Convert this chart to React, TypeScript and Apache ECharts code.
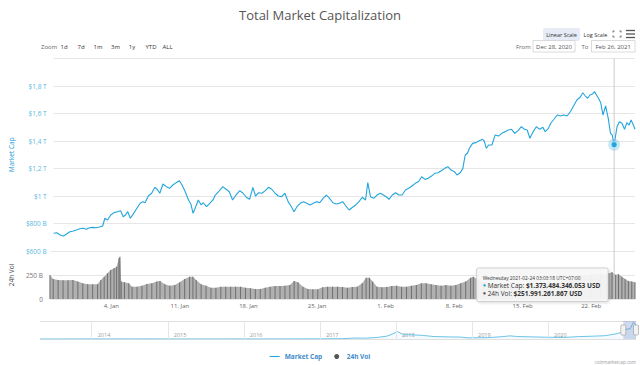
import React, { useEffect, useRef } from "react";
import * as echarts from "echarts";

// Market cap (trillions USD), x = days since 2020-12-28 00:00
const capDays = [
  0.725, 1.057, 1.39, 1.732, 2.064, 2.397, 2.739, 3.072, 3.404, 3.746,
  4.079, 4.411, 4.753, 5.086, 5.418, 5.76, 5.992, 6.264, 6.596, 6.928,
  7.271, 7.603, 7.875, 8.107, 8.338, 8.61, 8.943, 9.285, 9.617, 9.889,
  10.121, 10.453, 10.796, 11.128, 11.36, 11.632, 11.964, 12.306, 12.638, 12.971,
  13.313, 13.646, 13.917, 14.25, 14.582, 14.824, 15.056, 15.327, 15.589,
  15.891, 16.093, 16.435, 16.767, 17.1, 17.341, 17.674, 18.107, 18.449, 18.781,
  19.114, 19.456, 19.859, 20.191, 20.524, 20.866, 21.198, 21.47, 21.803, 22.135,
  22.477, 22.81, 23.142, 23.484, 23.817, 24.149, 24.491, 24.824, 25.156, 25.428,
  25.73, 26.062, 26.405, 26.737, 27.07, 27.412, 27.744, 28.077, 28.419, 28.751,
  29.084, 29.426, 29.758,
  30.091, 30.433, 30.765, 31.098, 31.44, 31.772, 32.105, 32.447, 32.779, 33.011,
  33.283, 33.615, 33.958, 34.29, 34.622, 34.965, 35.196, 35.529, 35.871, 36.204,
  36.536, 36.878, 37.211, 37.543, 37.885, 38.218, 38.55, 38.892, 39.225, 39.557,
  39.9, 40.232, 40.564, 40.907, 41.239, 41.571, 41.914, 42.175, 42.518, 42.78,
  43.021, 43.253, 43.454, 43.787, 44.129, 44.461, 44.794,
  44.965, 45.196, 45.438, 45.77, 46.103, 46.445, 46.778, 47.11, 47.452, 47.785,
  48.117, 48.459, 48.792, 49.124, 49.396, 49.668, 50.0, 50.332, 50.675, 51.007,
  51.239, 51.581, 51.813, 52.145, 52.487, 52.82, 53.152, 53.494, 53.827, 54.159,
  54.502, 54.834, 55.106, 55.368, 55.609, 55.841, 56.113, 56.314, 56.516, 56.777,
  56.949, 57.18, 57.452, 57.724, 57.956, 58.127, 58.328, 58.459, 58.63, 58.862,
  59.134, 59.396, 59.637, 59.869, 60.07, 60.302, 60.473,
];
const capValues = [
  0.729, 0.733, 0.716, 0.709, 0.724, 0.74, 0.745, 0.753, 0.762, 0.765,
  0.758, 0.769, 0.772, 0.769, 0.775, 0.782, 0.838, 0.825, 0.862, 0.879,
  0.886, 0.893, 0.849, 0.862, 0.886, 0.838, 0.874, 0.911, 0.947, 0.959,
  0.951, 1.0, 1.02, 1.063, 1.049, 1.02, 1.087, 1.068, 1.056, 1.08,
  1.097, 1.111, 1.08, 1.031, 0.971, 0.942, 0.874, 0.922, 0.971,
  0.935, 0.951, 0.922, 0.947, 0.971, 1.007, 1.031, 1.068, 1.049, 1.031,
  0.971, 1.007, 1.039, 1.02, 0.991, 0.976, 1.063, 1.0, 1.024, 1.02,
  1.039, 1.063, 1.049, 1.02, 1.0, 0.995, 1.02, 0.959, 0.922, 0.886,
  0.922, 0.947, 0.959, 0.947, 0.935, 0.947, 0.959, 0.951, 0.983, 1.007,
  0.983, 0.951, 0.942,
  0.947, 0.959, 0.927, 0.898, 0.918, 0.935, 0.959, 0.991, 0.971, 1.097,
  0.995, 0.983, 1.007, 1.02, 1.007, 0.991, 0.976, 1.007, 1.024, 1.007,
  1.007, 1.044, 1.056, 1.073, 1.092, 1.104, 1.14, 1.121, 1.129, 1.145,
  1.165, 1.169, 1.184, 1.201, 1.213, 1.189, 1.177, 1.153, 1.169, 1.201,
  1.298, 1.311, 1.347, 1.383, 1.388, 1.402, 1.412,
  1.402, 1.347, 1.371, 1.371, 1.444, 1.436, 1.456, 1.468, 1.48, 1.485,
  1.456, 1.475, 1.504, 1.485, 1.48, 1.42, 1.468, 1.504, 1.485, 1.5,
  1.468, 1.492, 1.529, 1.558, 1.589, 1.582, 1.589, 1.582, 1.613, 1.655,
  1.698, 1.718, 1.751, 1.727, 1.711, 1.735, 1.742, 1.759, 1.735, 1.703,
  1.679, 1.589, 1.655, 1.565, 1.456, 1.444, 1.373, 1.431, 1.504, 1.54,
  1.529, 1.485, 1.533, 1.516, 1.553, 1.516, 1.485,
];

// 24h volume (billions USD)
const volDays = [
  0.725, 1.057, 1.561, 2.064, 2.568, 3.072, 3.575, 4.079, 4.582, 5.086, 5.589,
  5.921, 6.264, 6.596, 6.928, 7.271, 7.533, 7.774, 7.875, 8.006, 8.338,
  8.781, 9.114, 9.617, 10.121, 10.624, 11.128, 11.632, 11.964, 12.467, 12.971,
  13.474, 13.978, 14.481, 14.985, 15.327, 15.66, 16.163, 16.667, 17.17, 17.674,
  18.177, 18.681, 19.184, 19.688, 20.191, 20.695, 21.198, 21.702, 22.205, 22.709,
  23.212, 23.716, 24.22, 24.723, 25.227, 25.66, 26.062, 26.566, 27.07, 27.573,
  28.077, 28.58, 29.084, 29.587, 30.091, 30.594,
  31.098, 31.601, 32.105, 32.608, 33.011, 33.353, 33.686, 34.119, 34.622, 35.126,
  35.629, 36.133, 36.637, 37.14, 37.644, 38.147, 38.651, 39.154, 39.658, 40.161,
  40.665, 41.168, 41.672, 42.175, 42.679, 43.182, 43.686, 43.958,
  44.461, 45.065, 45.871, 46.878, 47.885, 48.892, 49.899, 50.906, 51.913, 52.92,
  53.927, 54.935, 55.942, 56.949, 57.553,
  57.785, 58.127, 58.459, 58.792, 59.134, 59.466, 59.799, 60.141, 60.473,
];
const volValues = [
  250, 208, 198, 195, 195, 198, 181, 163, 153, 153, 153,
  198, 233, 267, 302, 320, 337, 424, 441, 181, 174,
  163, 128, 128, 139, 156, 163, 181, 188, 153, 139,
  146, 174, 208, 233, 233, 198, 153, 139, 118, 118,
  128, 128, 128, 128, 128, 118, 111, 104, 104, 118,
  128, 135, 135, 139, 146, 188, 174, 128, 104, 101,
  101, 122, 128, 128, 128, 125,
  118, 125, 128, 163, 222, 222, 181, 128, 122, 125,
  135, 139, 128, 128, 139, 146, 163, 163, 153, 146,
  139, 146, 139, 146, 163, 181, 222, 233,
  200, 175, 160, 150, 145, 150, 160, 155, 165, 175,
  200, 240, 255, 260, 250,
  267, 278, 252, 257, 233, 208, 188, 181, 174,
];

const xTickDays = [7, 14, 21, 28, 35, 42, 49, 56];
const xTickLabels = ["4. Jan", "11. Jan", "18. Jan", "25. Jan", "1. Feb", "8. Feb", "15. Feb", "22. Feb"];
const capTicks = [0.6, 0.8, 1.0, 1.2, 1.4, 1.6, 1.8];
const capTickLabels = ["$600 B", "$800 B", "$1 T", "$1,2 T", "$1,4 T", "$1,6 T", "$1,8 T"];
const volTicks = [0, 250];
const volTickLabels = ["0", "250 B"];

// Navigator: whole history (fractional year, trillions USD)
const navYears = [
  2013.32, 2013.6, 2013.85, 2013.93, 2014.1, 2014.5, 2015.0, 2015.5, 2016.0, 2016.5,
  2017.0, 2017.3, 2017.45, 2017.6, 2017.75, 2017.88, 2017.96, 2018.02, 2018.1, 2018.2,
  2018.35, 2018.5, 2018.7, 2018.85, 2018.95, 2019.2, 2019.4, 2019.5, 2019.6, 2019.8,
  2019.95, 2020.2, 2020.4, 2020.6, 2020.75, 2020.9, 2020.97, 2021.02, 2021.08, 2021.12, 2021.156,
];
const navValues = [
  0.0015, 0.0012, 0.006, 0.014, 0.01, 0.008, 0.005, 0.004, 0.007, 0.011,
  0.018, 0.035, 0.1, 0.09, 0.16, 0.3, 0.55, 0.78, 0.45, 0.45,
  0.38, 0.26, 0.22, 0.2, 0.12, 0.14, 0.25, 0.33, 0.26, 0.22,
  0.19, 0.16, 0.25, 0.3, 0.35, 0.55, 0.72, 1.0, 1.1, 1.75, 1.5,
];
const navYearTicks = [2014, 2015, 2016, 2017, 2018, 2019, 2020];
const navSelection = [2020.989, 2021.156];

const tipDay = 58.328;
const tipTime = "Wednesday 2021-02-24 03:03:18 UTC+07:00";
const tipCap = "$1.373.484.346.053 USD";
const tipVol = "$251.991.261.867 USD";

const FONT = "'Open Sans', sans-serif";
const CAP_COLOR = "#23a5dd";

function lookup(ticks: number[], labels: string[], v: number) {
  for (let i = 0; i < ticks.length; i++) if (Math.abs(ticks[i] - v) < 1e-6) return labels[i];
  return "";
}

function staticGraphics(): any[] {
  const t = (text: string, x: number, y: number, opts: any = {}) => ({
    type: "text",
    x,
    y,
    style: { text, fontSize: 6, fill: "#333", fontFamily: FONT, align: "center", verticalAlign: "middle", ...opts },
  });
  return [
    { type: "rect", shape: { x: 543, y: 28, width: 37, height: 13, r: 2 }, style: { fill: "#e6ebf5" } },
    t("Linear Scale", 561.5, 34.5, { fontSize: 5.5 }),
    t("Log Scale", 595.5, 34.5, { fontSize: 5.5 }),
    { type: "polyline", shape: { points: [[613, 32.5], [613, 31], [614.5, 31]] }, style: { stroke: "#666", lineWidth: 1, fill: null } },
    { type: "polyline", shape: { points: [[619.5, 31], [621, 31], [621, 32.5]] }, style: { stroke: "#666", lineWidth: 1, fill: null } },
    { type: "polyline", shape: { points: [[613, 35.5], [613, 37], [614.5, 37]] }, style: { stroke: "#666", lineWidth: 1, fill: null } },
    { type: "polyline", shape: { points: [[619.5, 37], [621, 37], [621, 35.5]] }, style: { stroke: "#666", lineWidth: 1, fill: null } },
    { type: "line", shape: { x1: 626, y1: 30.5, x2: 635, y2: 30.5 }, style: { stroke: "#555", lineWidth: 1.3 } },
    { type: "line", shape: { x1: 626, y1: 34, x2: 635, y2: 34 }, style: { stroke: "#555", lineWidth: 1.3 } },
    { type: "line", shape: { x1: 626, y1: 37.5, x2: 635, y2: 37.5 }, style: { stroke: "#555", lineWidth: 1.3 } },
    t("Zoom", 41, 46.5, { align: "left", fill: "#666" }),
    t("1d", 64, 46.5),
    t("7d", 81, 46.5),
    t("1m", 98, 46.5),
    t("3m", 115.5, 46.5),
    t("1y", 132, 46.5),
    t("YTD", 151, 46.5),
    t("ALL", 167.5, 46.5),
    t("From", 516, 46.5, { align: "left", fill: "#666" }),
    { type: "rect", shape: { x: 533, y: 40.5, width: 42, height: 11.5 }, style: { fill: "#fff", stroke: "#ccc", lineWidth: 0.7 } },
    t("Dec 28, 2020", 554, 46.5, { fill: "#555" }),
    t("To", 581.5, 46.5, { align: "left", fill: "#666" }),
    { type: "rect", shape: { x: 591.5, y: 40.5, width: 43.5, height: 11.5 }, style: { fill: "#fff", stroke: "#ccc", lineWidth: 0.7 } },
    t("Feb 26, 2021", 613.2, 46.5, { fill: "#555" }),
    t("coinmarketcap.com", 636, 361.5, { align: "right", fontSize: 4.5, fill: "#999" }),
  ];
}

export default function App() {
  const ref = useRef<HTMLDivElement>(null);
  useEffect(() => {
    if (!ref.current) return;
    const chart = echarts.init(ref.current, null, { renderer: "svg" });
    const dMin = capDays[0];
    const dMax = capDays[capDays.length - 1];
    const option: any = {
      animation: false,
      textStyle: { fontFamily: FONT },
      title: {
        text: "Total Market Capitalization",
        left: "center",
        top: 3,
        textStyle: { fontSize: 13, fontWeight: "normal", color: "#555", fontFamily: FONT },
      },
      legend: {
        left: "center",
        top: 348,
        itemWidth: 10,
        itemHeight: 5,
        itemGap: 12,
        textStyle: { fontSize: 6.5, fontWeight: "bold", color: "#3d8bc9", fontFamily: FONT },
        data: [
          { name: "Market Cap", icon: "path://M0,0 L12,0 L12,1.3 L0,1.3 Z", itemStyle: { color: CAP_COLOR } },
          { name: "24h Vol", icon: "circle", itemStyle: { color: "#555" } },
        ],
      },
      grid: [
        { left: 42, right: 5, top: 58.5, height: 192.5 },
        { left: 42, right: 5, top: 251, height: 48 },
        { left: 40, right: 4, top: 321, height: 18 },
      ],
      xAxis: [
        {
          type: "value", gridIndex: 0, min: dMin, max: dMax,
          axisLabel: { show: false }, axisTick: { show: false }, axisLine: { show: false }, splitLine: { show: false },
        },
        {
          type: "value", gridIndex: 1, min: dMin, max: dMax,
          axisLabel: {
            customValues: xTickDays,
            formatter: (v: number) => lookup(xTickDays, xTickLabels, v),
            fontSize: 6, color: "#666", margin: 4, fontFamily: FONT,
          },
          axisTick: { show: false }, axisLine: { show: false }, splitLine: { show: false },
        },
        {
          type: "value", gridIndex: 2, min: navYears[0], max: navYears[navYears.length - 1],
          axisLabel: {
            inside: true,
            customValues: navYearTicks,
            formatter: (v: number) => String(Math.round(v)),
            align: "left",
            padding: [0, 0, 0, 6],
            fontSize: 5.5, color: "#999", margin: 1, fontFamily: FONT,
          },
          axisTick: { show: false }, axisLine: { show: false }, splitLine: { show: false },
        },
      ],
      yAxis: [
        {
          type: "value", gridIndex: 0, min: 0.6, max: 2.0, interval: 0.2,
          name: "Market Cap", nameLocation: "middle", nameGap: 31, nameRotate: 90,
          nameTextStyle: { color: "#1a9ad6", fontSize: 6.5, fontFamily: FONT },
          axisLabel: {
            formatter: (v: number) => lookup(capTicks, capTickLabels, v),
            color: "#5bb8e0", fontSize: 6.5, margin: 7, fontFamily: FONT,
          },
          splitLine: { lineStyle: { color: "#e6e6e6", width: 1 } },
          axisLine: { show: false }, axisTick: { show: false },
        },
        {
          type: "value", gridIndex: 1, min: 0, max: 500, interval: 250,
          name: "24h Vol", nameLocation: "middle", nameGap: 31, nameRotate: 90,
          nameTextStyle: { color: "#444", fontSize: 6.5, fontFamily: FONT },
          axisLabel: {
            formatter: (v: number) => lookup(volTicks, volTickLabels, v),
            color: "#777", fontSize: 6.5, margin: 7, fontFamily: FONT,
          },
          splitLine: { lineStyle: { color: "#e6e6e6", width: 1 } },
          axisLine: { show: false }, axisTick: { show: false },
        },
        {
          type: "value", gridIndex: 2, min: 0, max: 1.9, interval: 1.9,
          axisLabel: { show: false },
          splitLine: { lineStyle: { color: "#e0e0e0", width: 1 } },
          axisLine: { show: false }, axisTick: { show: false },
        },
      ],
      series: [
        {
          name: "Market Cap", type: "line", xAxisIndex: 0, yAxisIndex: 0,
          data: capDays.map((d, i) => [d, capValues[i]]),
          symbol: "none", lineStyle: { color: CAP_COLOR, width: 1.1 }, itemStyle: { color: CAP_COLOR },
          z: 3,
        },
        {
          name: "24h Vol", type: "line", xAxisIndex: 1, yAxisIndex: 1,
          data: volDays.map((d, i) => [d, volValues[i]]),
          symbol: "none", lineStyle: { width: 0 }, areaStyle: { color: "#b0b0b0", opacity: 1 },
          itemStyle: { color: "#555" },
          z: 2,
        },
        {
          name: "24h Vol", type: "bar", xAxisIndex: 1, yAxisIndex: 1,
          data: volDays.map((d, i) => [d, volValues[i]]),
          barWidth: 1, barMinWidth: 1, itemStyle: { color: "#6f6f6f" },
          z: 5,
        },
        {
          name: "Navigator", type: "line", xAxisIndex: 2, yAxisIndex: 2,
          data: navYears.map((y, i) => [y, navValues[i]]),
          symbol: "none", lineStyle: { color: "#6cc4e8", width: 1 },
          areaStyle: { color: CAP_COLOR, opacity: 0.05 },
          markLine: {
            silent: true, symbol: "none", label: { show: false },
            lineStyle: { color: "#e6e6e6", type: "solid", width: 1 },
            data: navYearTicks.map((y) => ({ xAxis: y })),
          },
        },
      ],
      graphic: staticGraphics(),
    };
    chart.setOption(option);

    const idx = capDays.indexOf(tipDay);
    const p = chart.convertToPixel({ gridIndex: 0 }, [capDays[idx], capValues[idx]]) as number[];
    const topY = (chart.convertToPixel({ gridIndex: 0 }, [capDays[idx], 2.0]) as number[])[1];
    const botY = (chart.convertToPixel({ gridIndex: 1 }, [capDays[idx], 0]) as number[])[1];
    const s0 = chart.convertToPixel({ gridIndex: 2 }, [navSelection[0], 0]) as number[];
    const s1 = chart.convertToPixel({ gridIndex: 2 }, [navSelection[1], 1.9]) as number[];
    const navMid = (s0[1] + s1[1]) / 2;
    const boxR = p[0] - 6;
    const boxL = boxR - 131.5;
    const dyn: any[] = [
      { type: "line", z: 50, shape: { x1: p[0], y1: topY, x2: p[0], y2: botY }, style: { stroke: "#cccccc", lineWidth: 1 } },
      { type: "circle", z: 51, shape: { cx: p[0], cy: p[1], r: 6 }, style: { fill: CAP_COLOR, opacity: 0.25 } },
      { type: "circle", z: 52, shape: { cx: p[0], cy: p[1], r: 3 }, style: { fill: CAP_COLOR, stroke: "#fff", lineWidth: 0.5 } },
      {
        type: "rect", z: 60, shape: { x: boxL, y: 268, width: boxR - boxL, height: 33.5, r: 2 },
        style: { fill: "rgba(247,247,247,0.93)", stroke: "#c8c8c8", lineWidth: 0.8, shadowBlur: 3, shadowColor: "rgba(0,0,0,0.15)", shadowOffsetX: 1, shadowOffsetY: 1 },
      },
      { type: "text", z: 61, x: boxL + 6, y: 277.5, style: { text: tipTime, fontSize: 4.8, fill: "#333", fontFamily: FONT, verticalAlign: "middle" } },
      {
        type: "text", z: 61, x: boxL + 6, y: 285,
        style: {
          text: "{d|●} Market Cap: {b|" + tipCap + "}",
          fontSize: 6.5, fill: "#333", fontFamily: FONT, verticalAlign: "middle",
          rich: { d: { fill: CAP_COLOR, fontSize: 5.5 }, b: { fontWeight: "bold", fontSize: 6.5, fill: "#333", fontFamily: FONT } },
        },
      },
      {
        type: "text", z: 61, x: boxL + 6, y: 293,
        style: {
          text: "{d|●} 24h Vol: {b|" + tipVol + "}",
          fontSize: 6.5, fill: "#333", fontFamily: FONT, verticalAlign: "middle",
          rich: { d: { fill: "#555", fontSize: 5.5 }, b: { fontWeight: "bold", fontSize: 6.5, fill: "#333", fontFamily: FONT } },
        },
      },
      { type: "rect", z: 40, shape: { x: s0[0], y: s1[1], width: s1[0] - s0[0], height: s0[1] - s1[1] }, style: { fill: "rgba(102,133,194,0.3)" } },
      { type: "rect", z: 41, shape: { x: s0[0] - 2.5, y: navMid - 5, width: 5, height: 10, r: 1 }, style: { fill: "#f2f2f2", stroke: "#999", lineWidth: 0.6 } },
      { type: "rect", z: 41, shape: { x: s1[0] - 2.5, y: navMid - 5, width: 5, height: 10, r: 1 }, style: { fill: "#f2f2f2", stroke: "#999", lineWidth: 0.6 } },
    ];
    chart.setOption({ graphic: [...staticGraphics(), ...dyn] });

    return () => chart.dispose();
  }, []);
  return <div ref={ref} style={{ position: "fixed", left: 0, top: 0, width: 640, height: 365, background: "#fff" }} />;
}
